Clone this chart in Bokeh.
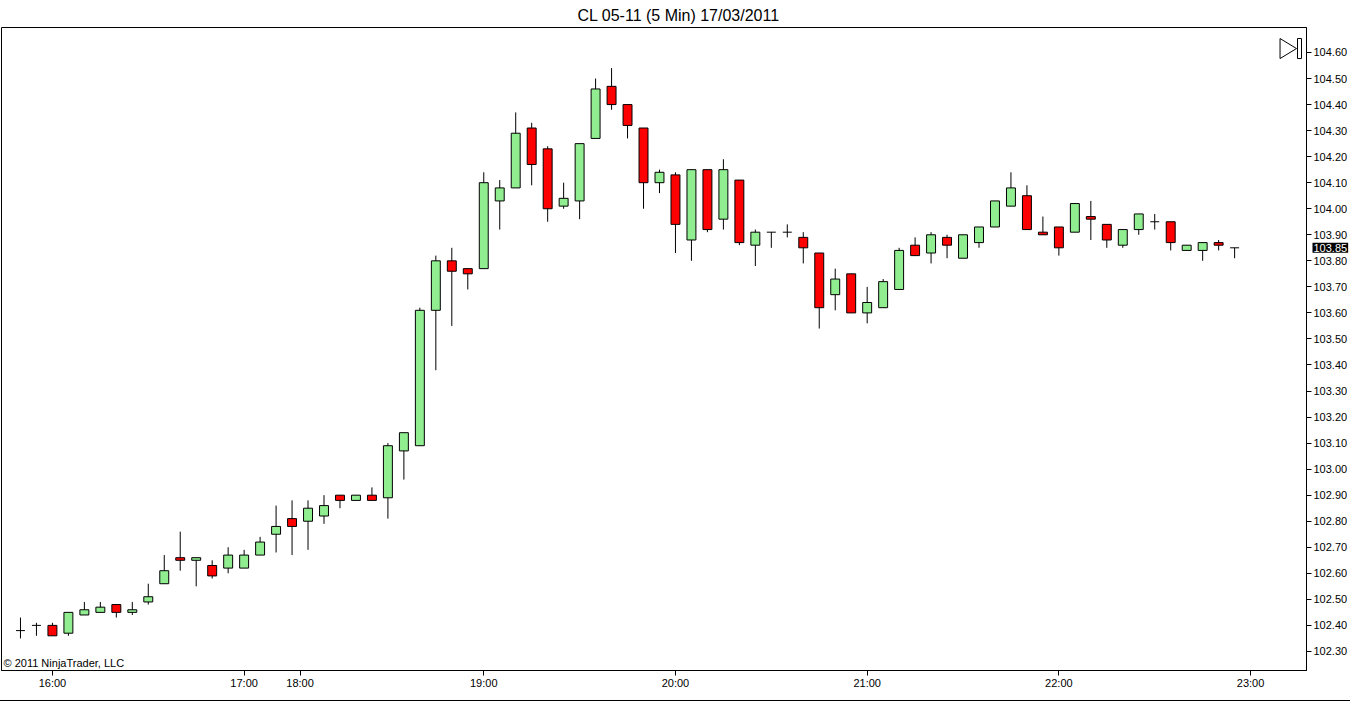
import numpy as np
from bokeh.plotting import figure
from bokeh.models import (ColumnDataSource, Range1d, FixedTicker, SingleIntervalTicker,
                          NumeralTickFormatter, Label, PolyAnnotation, BoxAnnotation)
from bokeh.embed import file_html
from bokeh.resources import INLINE

# ---------------- data (5-minute bars) ----------------
opens = [102.38, 102.40, 102.40, 102.37, 102.44, 102.45, 102.48, 102.45, 102.49, 102.56,
         102.66, 102.65, 102.63, 102.62, 102.62, 102.67, 102.75, 102.81, 102.80, 102.82,
         102.90, 102.88, 102.90, 102.89, 103.07, 103.09, 103.61, 103.80, 103.77, 103.77,
         104.03, 104.08, 104.31, 104.23, 104.01, 104.03, 104.27, 104.47, 104.40, 104.31,
         104.10, 104.13, 103.88, 104.15, 103.96, 104.11, 103.86, 103.91, 103.91, 103.89,
         103.83, 103.67, 103.75, 103.60, 103.62, 103.69, 103.86, 103.83, 103.89, 103.81,
         103.87, 103.93, 104.01, 104.05, 103.91, 103.93, 103.91, 103.97, 103.94, 103.86,
         103.92, 103.95, 103.95, 103.84, 103.84, 103.87, 103.85]
highs = [102.43, 102.41, 102.41, 102.45, 102.49, 102.49, 102.48, 102.49, 102.56, 102.67,
         102.76, 102.66, 102.65, 102.70, 102.69, 102.74, 102.86, 102.88, 102.88, 102.90,
         102.90, 102.90, 102.93, 103.10, 103.14, 103.62, 103.82, 103.85, 103.77, 104.14,
         104.11, 104.37, 104.33, 104.24, 104.10, 104.25, 104.50, 104.54, 104.40, 104.31,
         104.15, 104.14, 104.15, 104.15, 104.19, 104.11, 103.92, 103.91, 103.94, 103.91,
         103.83, 103.77, 103.75, 103.70, 103.73, 103.85, 103.89, 103.91, 103.90, 103.90,
         103.93, 104.03, 104.14, 104.09, 103.97, 103.93, 104.02, 104.03, 103.94, 103.92,
         103.98, 103.98, 103.95, 103.86, 103.87, 103.88, 103.85]
lows = [102.35, 102.36, 102.36, 102.36, 102.44, 102.45, 102.43, 102.44, 102.48, 102.56,
        102.61, 102.55, 102.58, 102.60, 102.62, 102.67, 102.68, 102.67, 102.69, 102.79,
        102.85, 102.88, 102.88, 102.81, 102.96, 103.09, 103.38, 103.55, 103.69, 103.77,
        103.92, 104.08, 104.09, 103.95, 104.00, 103.96, 104.27, 104.38, 104.27, 104.00,
        104.06, 103.83, 103.80, 103.91, 103.92, 103.86, 103.78, 103.85, 103.89, 103.79,
        103.54, 103.61, 103.60, 103.56, 103.62, 103.69, 103.82, 103.79, 103.81, 103.81,
        103.85, 103.93, 104.01, 103.92, 103.90, 103.82, 103.91, 103.88, 103.85, 103.85,
        103.90, 103.92, 103.84, 103.84, 103.80, 103.84, 103.81]
closes = [102.38, 102.40, 102.36, 102.45, 102.46, 102.47, 102.45, 102.46, 102.51, 102.61,
          102.65, 102.66, 102.59, 102.67, 102.67, 102.72, 102.78, 102.78, 102.85, 102.86,
          102.88, 102.90, 102.88, 103.09, 103.14, 103.61, 103.80, 103.76, 103.75, 104.10,
          104.08, 104.29, 104.17, 104.00, 104.04, 104.25, 104.46, 104.40, 104.32, 104.10,
          104.14, 103.94, 104.15, 103.92, 104.15, 103.87, 103.91, 103.91, 103.91, 103.85,
          103.62, 103.73, 103.60, 103.64, 103.72, 103.84, 103.82, 103.90, 103.86, 103.90,
          103.93, 104.03, 104.08, 103.92, 103.90, 103.85, 104.02, 103.96, 103.88, 103.92,
          103.98, 103.95, 103.87, 103.86, 103.87, 103.86, 103.85]

# time-axis labels (bar-index positions of the hour marks)
tick_positions = [2, 14, 17.5, 29, 41, 53, 65, 77]
tick_labels = ["16:00", "17:00", "18:00", "19:00", "20:00", "21:00", "22:00", "23:00"]

title_text = "CL 05-11 (5 Min)  17/03/2011"
copyright_text = "\u00a9 2011 NinjaTrader, LLC"
last_price_text = "103.85"

# ---------------- styling constants ----------------
GREEN = "#90EE90"
RED = "#FF0000"
FONT = "Liberation Sans"
FRAME_H = 642           # plot-area height in pixels
PX_PER_UNIT = 260.0     # vertical pixels per 1.00 of price
X_MIN, X_MAX = -1.1875, 80.5
Y_MAX = 104.696
Y_MIN = Y_MAX - FRAME_H / PX_PER_UNIT
BODY_W = 0.56

# ---------------- sources ----------------
idx = np.arange(len(opens))
o = np.array(opens); h = np.array(highs); l = np.array(lows); c = np.array(closes)
up = c > o + 1e-9
dn = c < o - 1e-9
dj = ~(up | dn)

src_all = ColumnDataSource(dict(x=idx, high=h, low=l))
src_up = ColumnDataSource(dict(x=idx[up], top=c[up], bottom=o[up]))
src_dn = ColumnDataSource(dict(x=idx[dn], top=o[dn], bottom=c[dn]))
src_dj = ColumnDataSource(dict(x0=idx[dj] - BODY_W / 2, x1=idx[dj] + BODY_W / 2, y=c[dj]))

p = figure(width=1350, height=701, output_backend="svg", toolbar_location=None,
           x_range=Range1d(X_MIN, X_MAX), y_range=Range1d(Y_MIN, Y_MAX),
           y_axis_location="right", x_axis_location="below",
           title=title_text)

p.min_border_left = 1
p.min_border_right = 41
p.min_border_top = 27
p.min_border_bottom = 30
p.background_fill_color = "white"
p.border_fill_color = "white"
p.outline_line_color = "black"
p.outline_line_width = 1
p.xgrid.visible = False
p.ygrid.visible = False

p.title.align = "left"
p.title.text_font = FONT
p.title.text_font_size = "16px"
p.title.text_font_style = "normal"
p.title.text_color = "black"
p.title.standoff = 7
p.title.offset = 576

# x axis
xa = p.xaxis[0]
xa.ticker = FixedTicker(ticks=tick_positions)
xa.major_label_overrides = {pos: lab for pos, lab in zip(tick_positions, tick_labels)}
xa.major_tick_out = 5
xa.major_tick_in = 0
xa.minor_tick_out = 0
xa.minor_tick_in = 0
xa.axis_line_color = "black"
xa.major_tick_line_color = "black"
xa.major_label_text_font = FONT
xa.major_label_text_font_size = "11px"
xa.major_label_text_color = "black"
xa.major_label_standoff = 1

# y axis
ya = p.yaxis[0]
ya.ticker = SingleIntervalTicker(interval=0.1, num_minor_ticks=0)
ya.formatter = NumeralTickFormatter(format="0.00")
ya.major_tick_out = 5
ya.major_tick_in = 0
ya.minor_tick_out = 0
ya.minor_tick_in = 0
ya.axis_line_color = "black"
ya.major_tick_line_color = "black"
ya.major_label_text_font = FONT
ya.major_label_text_font_size = "11px"
ya.major_label_text_color = "black"
ya.major_label_standoff = 2

# candles
p.segment(x0="x", y0="low", x1="x", y1="high", source=src_all, line_color="black", line_width=1)
p.vbar(x="x", width=BODY_W, top="top", bottom="bottom", source=src_up,
       fill_color=GREEN, line_color="black", line_width=1)
p.vbar(x="x", width=BODY_W, top="top", bottom="bottom", source=src_dn,
       fill_color=RED, line_color="black", line_width=1)
p.segment(x0="x0", y0="y", x1="x1", y1="y", source=src_dj, line_color="black", line_width=1)

# copyright text
p.add_layout(Label(x=X_MIN, y=Y_MIN, x_offset=2, y_offset=2, text=copyright_text,
                   text_font=FONT, text_font_size="11px", text_color="black",
                   text_baseline="bottom", text_align="left"))

UX = 1 / 16.0          # data units per pixel, x
UY = 1 / PX_PER_UNIT   # data units per pixel, y

# last-price marker on the price axis (kept in a side panel so it is not clipped)
price_kw = dict(x=X_MAX, y=closes[-1], x_offset=6, text=last_price_text,
                text_font=FONT, text_font_size="11px", text_color="white",
                text_baseline="middle", text_align="left",
                background_fill_color="black", background_fill_alpha=1.0)
if "padding" in Label.properties():
    price_kw["padding"] = 1
p.add_layout(Label(**price_kw), "below")

# "scroll to end" icon in the top-right corner
tri_left = X_MAX - 26.5 * UX
tri_right = X_MAX - 10 * UX
top_y = Y_MAX - 11 * UY
bot_y = Y_MAX - 31 * UY
p.add_layout(PolyAnnotation(xs=[tri_left, tri_left, tri_right],
                            ys=[top_y, bot_y, (top_y + bot_y) / 2],
                            fill_alpha=0, line_color="black", line_alpha=1.0, line_width=1))
p.add_layout(BoxAnnotation(left=X_MAX - 9 * UX, right=X_MAX - 5 * UX,
                           top=top_y, bottom=bot_y, fill_alpha=0,
                           line_color="black", line_width=1, line_alpha=1))

p.styles = {"border-bottom": "1px solid black"}

open("out.html", "w").write(file_html(p, INLINE))
